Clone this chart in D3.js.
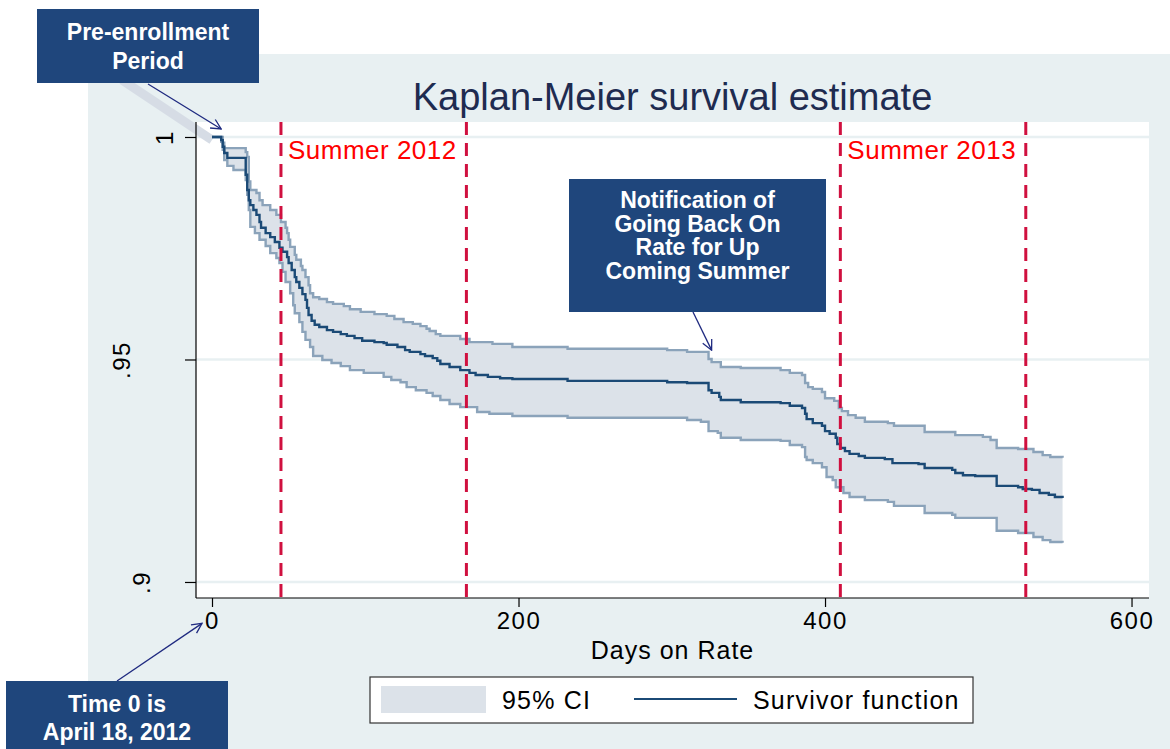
<!DOCTYPE html>
<meta charset="utf-8">
<style>
body { margin: 0; background: #fff; }
text { font-family: "Liberation Sans", Arial, sans-serif; }
.axis path, .axis line { stroke: #000; stroke-width: 1.2px; }
.axis text { font-size: 24px; fill: #000; letter-spacing: 1.5px; }
.note text { font-weight: bold; fill: #fff; font-size: 23px; text-anchor: middle; }
</style>
<svg width="1170" height="749"></svg>
<script src="https://d3js.org/d3.v7.min.js"></script>
<script>
// Kaplan-Meier survivor function (step starts)
var survDays = [0,6,7,8,10,22,23,24,25,27,29,31,32,35,38,41,44,46,49,50,52,54,55,57,59,61,62,63,65,67,70,75,79,84,88,93,98,106,112,114,121,126,129,136,139,144,147,149,155,162,168,172,180,188,196,232,297,310,324,326,331,332,345,371,377,385,387,388,392,398,400,403,407,408,410,413,416,422,426,439,444,461,465,483,485,490,498,512,526,529,535,540,546,550,555];
var survVals = [1.0000,0.9993,0.9978,0.9964,0.9953,0.9915,0.9881,0.9858,0.9847,0.9836,0.9825,0.9809,0.9796,0.9784,0.9775,0.9764,0.9751,0.9742,0.9730,0.9717,0.9701,0.9685,0.9674,0.9661,0.9647,0.9634,0.9616,0.9600,0.9587,0.9578,0.9573,0.9566,0.9562,0.9557,0.9553,0.9548,0.9542,0.9539,0.9537,0.9533,0.9528,0.9521,0.9517,0.9512,0.9508,0.9503,0.9497,0.9490,0.9483,0.9476,0.9470,0.9465,0.9461,0.9458,0.9456,0.9452,0.9449,0.9447,0.9431,0.9425,0.9416,0.9409,0.9404,0.9402,0.9396,0.9391,0.9378,0.9366,0.9357,0.9351,0.9339,0.9333,0.9324,0.9310,0.9301,0.9294,0.9288,0.9283,0.9279,0.9276,0.9267,0.9265,0.9256,0.9252,0.9245,0.9240,0.9238,0.9216,0.9213,0.9209,0.9207,0.9200,0.9196,0.9191,0.9189];

// 95% CI upper bound
var upperDays = [0,7,8,22,23,24,25,29,31,33,38,42,45,48,49,50,51,54,55,58,59,61,63,64,66,70,75,79,86,90,97,106,114,119,125,131,136,140,142,146,149,162,168,183,196,232,297,310,324,326,332,345,371,377,385,387,389,392,398,400,406,409,411,415,420,426,441,445,465,485,503,508,512,526,536,542,547,555];
var upperVals = [1.0000,0.9987,0.9975,0.9966,0.9955,0.9900,0.9881,0.9874,0.9858,0.9847,0.9836,0.9825,0.9809,0.9796,0.9784,0.9769,0.9753,0.9735,0.9724,0.9710,0.9701,0.9685,0.9667,0.9649,0.9640,0.9636,0.9629,0.9625,0.9620,0.9613,0.9607,0.9602,0.9598,0.9591,0.9584,0.9580,0.9575,0.9569,0.9564,0.9557,0.9553,0.9546,0.9539,0.9535,0.9528,0.9524,0.9521,0.9517,0.9501,0.9494,0.9483,0.9481,0.9476,0.9470,0.9465,0.9447,0.9438,0.9434,0.9427,0.9413,0.9407,0.9391,0.9384,0.9375,0.9369,0.9360,0.9357,0.9351,0.9337,0.9330,0.9326,0.9319,0.9301,0.9299,0.9292,0.9285,0.9281,0.9279];

// 95% CI lower bound
var lowerDays = [0,6,7,8,10,14,22,23,24,25,28,31,35,38,42,44,46,48,51,53,54,57,59,61,64,66,72,78,84,90,99,112,117,123,127,133,140,144,149,155,162,173,181,196,232,310,319,324,330,332,345,371,377,385,387,388,392,398,401,405,407,412,416,426,441,445,465,483,485,512,526,536,542,547,555];
var lowerVals = [1.0000,0.9989,0.9971,0.9948,0.9935,0.9926,0.9903,0.9870,0.9836,0.9798,0.9784,0.9769,0.9755,0.9739,0.9728,0.9717,0.9697,0.9674,0.9649,0.9622,0.9604,0.9584,0.9562,0.9544,0.9528,0.9508,0.9499,0.9492,0.9485,0.9476,0.9470,0.9461,0.9454,0.9449,0.9438,0.9431,0.9425,0.9418,0.9409,0.9400,0.9393,0.9382,0.9378,0.9373,0.9369,0.9364,0.9360,0.9339,0.9335,0.9324,0.9319,0.9317,0.9308,0.9303,0.9281,0.9274,0.9267,0.9258,0.9236,0.9229,0.9213,0.9200,0.9191,0.9184,0.9180,0.9171,0.9155,0.9151,0.9144,0.9115,0.9110,0.9101,0.9094,0.9090,0.9088];

// summer start/end (days on rate) and labels
var summerDays = [45, 166, 410, 531];
var summerLabels = ["Summer 2012", "Summer 2013"];

var xTicks = [0, 200, 400, 600];
var yTicks = [0.9, 0.95, 1];
var yTickLabels = [".9", ".95", "1"];
var legendLabels = ["95% CI", "Survivor function"];

var svg = d3.select("svg");

// plot region
var plotL = 196, plotR = 1149, plotT = 122, plotB = 598;
// the y labels sit at uneven distances from the axis in the picture
var yLabelGap = [46, 66, 23];

var x = d3.scaleLinear().domain([-10.44, 611.4]).range([plotL, plotR]);
var y = d3.scaleLinear().domain([0.8964, 1.00337]).range([plotB, plotT]);

// outer graph region
svg.append("rect")
    .attr("x", 88).attr("y", 54)
    .attr("width", 1170 - 88).attr("height", 749 - 54)
    .attr("fill", "#e8f0f2");

svg.append("rect")
    .attr("x", plotL).attr("y", plotT)
    .attr("width", plotR - plotL).attr("height", plotB - plotT)
    .attr("fill", "#fff");

// grid
svg.append("g")
    .selectAll("line")
    .data(yTicks)
    .enter().append("line")
    .attr("x1", plotL).attr("x2", plotR)
    .attr("y1", function(d) { return y(d); })
    .attr("y2", function(d) { return y(d); })
    .style("stroke", "#e8f0f2")
    .style("stroke-width", 2.5);

// CI band on merged day grid (step lookup)
function stepAt(days, vals, t) {
    var i = d3.bisectRight(days, t) - 1;
    return vals[Math.max(0, i)];
}
var allDays = Array.from(new Set(upperDays.concat(lowerDays))).sort(d3.ascending);
var band = allDays.map(function(t) {
    return {t: t, hi: stepAt(upperDays, upperVals, t), lo: stepAt(lowerDays, lowerVals, t)};
});

var area = d3.area()
    .curve(d3.curveStepAfter)
    .x(function(d) { return x(d.t); })
    .y0(function(d) { return y(d.lo); })
    .y1(function(d) { return y(d.hi); });

var line = d3.line()
    .curve(d3.curveStepAfter)
    .x(function(d) { return x(d[0]); })
    .y(function(d) { return y(d[1]); });

// pre-enrollment stripe
svg.append("line")
    .attr("x1", 122).attr("y1", 80)
    .attr("x2", x(0)).attr("y2", y(1) + 3)
    .attr("stroke", "#d6dce5")
    .attr("stroke-width", 9);

svg.append("path")
    .attr("d", area(band))
    .attr("fill", "#dce2e9");

[[upperDays, upperVals], [lowerDays, lowerVals]].forEach(function(s) {
    svg.append("path")
        .attr("d", line(d3.zip(s[0], s[1])))
        .attr("fill", "none")
        .attr("stroke", "#8ba3ba")
        .attr("stroke-width", 2.4);
});

svg.append("path")
    .attr("d", line(d3.zip(survDays, survVals)))
    .attr("fill", "none")
    .attr("stroke", "#1b4a76")
    .attr("stroke-width", 2.4);

// summer markers
svg.append("g")
    .selectAll("line")
    .data(summerDays)
    .enter().append("line")
    .attr("x1", function(d) { return x(d); })
    .attr("x2", function(d) { return x(d); })
    .attr("y1", plotT).attr("y2", plotB)
    .style("stroke", "#d0103f")
    .style("stroke-width", 3)
    .style("stroke-dasharray", "13,8");

svg.append("g")
    .selectAll("text")
    .data(summerLabels)
    .enter().append("text")
    .attr("x", function(d, i) { return x(summerDays[i * 2]) + 7; })
    .attr("y", 159)
    .style("font-size", "26px")
    .style("letter-spacing", "0.5px")
    .style("fill", "#ff0000")
    .text(function(d) { return d; });

// axes
var xAxis = svg.append("g")
    .attr("class", "axis")
    .attr("transform", "translate(0," + plotB + ")")
    .call(d3.axisBottom(x).tickValues(xTicks).tickSize(9).tickPadding(5).tickFormat(d3.format("d")));
xAxis.select(".domain").attr("d", "M" + plotL + ",0H" + plotR);

var yAxis = svg.append("g")
    .attr("class", "axis")
    .attr("transform", "translate(" + plotL + ",0)")
    .call(d3.axisLeft(y).tickValues(yTicks).tickSize(11)
        .tickFormat(function(d, i) { return yTickLabels[i]; }));
yAxis.select(".domain").attr("d", "M0," + plotT + "V" + plotB);
yAxis.selectAll(".tick text")
    .attr("transform", "rotate(-90)")
    .attr("x", 0)
    .attr("y", function(d, i) { return -yLabelGap[i]; })
    .attr("dy", 0)
    .style("text-anchor", "middle");

svg.append("text")
    .attr("x", (plotL + plotR) / 2).attr("y", 659)
    .attr("text-anchor", "middle")
    .style("font-size", "25px")
    .style("letter-spacing", "1px")
    .text("Days on Rate");

svg.append("text")
    .attr("x", (plotL + plotR) / 2).attr("y", 110)
    .attr("text-anchor", "middle")
    .style("font-size", "38px")
    .style("fill", "#1e2b50")
    .text("Kaplan-Meier survival estimate");

// legend
var lg = svg.append("g");
lg.append("rect").attr("x", 370).attr("y", 677).attr("width", 603).attr("height", 46)
    .attr("fill", "#fff").attr("stroke", "#333").attr("stroke-width", 1.2);
lg.append("rect").attr("x", 381).attr("y", 686).attr("width", 105).attr("height", 27)
    .attr("fill", "#dce2e9");
lg.append("line").attr("x1", 634).attr("x2", 737).attr("y1", 699).attr("y2", 699)
    .attr("stroke", "#1b4a76").attr("stroke-width", 2);
lg.selectAll("text").data(legendLabels).enter().append("text")
    .attr("x", function(d, i) { return i ? 753 : 502; })
    .attr("y", 709)
    .style("font-size", "25px")
    .style("letter-spacing", "1.2px")
    .text(function(d) { return d; });

// annotations
svg.append("defs").append("marker")
    .attr("id", "arr")
    .attr("viewBox", "0 0 12 12")
    .attr("refX", 11).attr("refY", 6)
    .attr("markerWidth", 12).attr("markerHeight", 12)
    .attr("markerUnits", "userSpaceOnUse")
    .attr("orient", "auto")
    .append("path")
    .attr("d", "M1,1L11,6L1,11")
    .attr("fill", "none")
    .attr("stroke", "#1f2a80")
    .attr("stroke-width", 1.3);

var notes = [
    {box: [37, 9, 222, 74], lines: ["Pre-enrollment", "Period"], base: 40, step: 29,
     from: [148, 84], to: [x(6), y(1.0018)]},
    {box: [6, 681, 222, 68], lines: ["Time 0 is", "April 18, 2012"], base: 712, step: 28,
     from: [117, 681], to: [x(-6.5), y(0.8907)]},
    {box: [569, 179, 257, 133], lines: ["Notification of", "Going Back On", "Rate for Up", "Coming Summer"], base: 208, step: 23.7,
     from: [693, 312], to: [x(326), y(0.9521)]}
];

notes.forEach(function(n) {
    var g = svg.append("g").attr("class", "note");
    g.append("line")
        .attr("x1", n.from[0]).attr("y1", n.from[1])
        .attr("x2", n.to[0]).attr("y2", n.to[1])
        .attr("stroke", "#1f2a80").attr("stroke-width", 1.3)
        .attr("marker-end", "url(#arr)");
    g.append("rect")
        .attr("x", n.box[0]).attr("y", n.box[1])
        .attr("width", n.box[2]).attr("height", n.box[3])
        .attr("fill", "#1f467c");
    g.selectAll("text").data(n.lines).enter().append("text")
        .attr("x", n.box[0] + n.box[2] / 2)
        .attr("y", function(d, i) { return n.base + i * n.step; })
        .text(function(d) { return d; });
});
</script>
